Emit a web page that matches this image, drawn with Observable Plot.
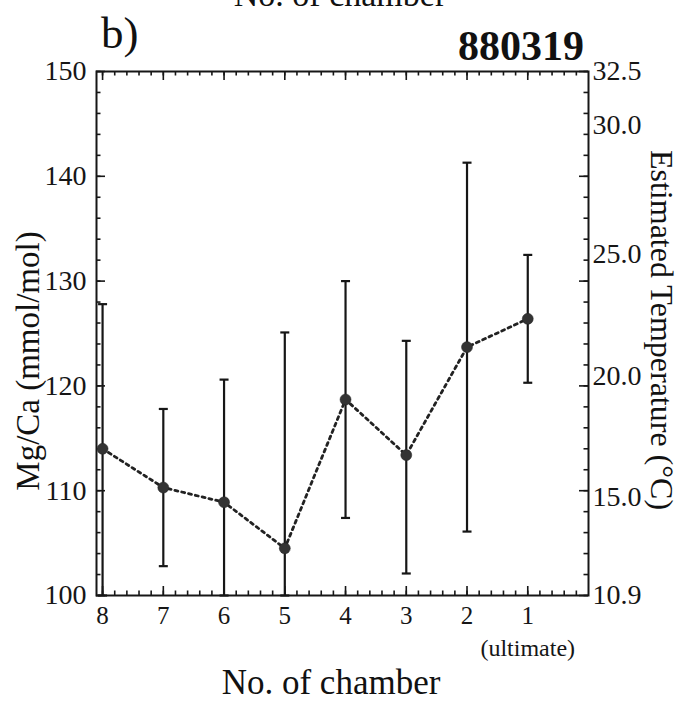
<!DOCTYPE html>
<html>
<head>
<meta charset="utf-8">
<script src="https://cdn.jsdelivr.net/npm/d3@7"></script>
<script src="https://cdn.jsdelivr.net/npm/@observablehq/plot@0.6"></script>
<style>
  html, body { margin: 0; padding: 0; background: #fff; }
  #wrap { position: relative; width: 683px; height: 701px; overflow: hidden; font-family: "Liberation Serif", "DejaVu Serif", serif; color: #111; }
  #wrap svg { position: absolute; left: 0; top: 0; }
  .t { position: absolute; white-space: nowrap; line-height: 1; }
</style>
</head>
<body>
<div id="wrap">
  <div class="t" id="topcut" style="left:340px; top:-22px; font-size:34px; transform:translateX(-50%);">No. of chamber</div>
  <div class="t" style="left:101px; top:11px; font-size:45px;">b)</div>
  <div class="t" style="right:99px; top:25px; font-size:42px; font-weight:bold;">880319</div>
  <div class="t" style="left:28px; top:361px; font-size:33px; transform:translate(-50%,-50%) rotate(-90deg);">Mg/Ca (mmol/mol)</div>
  <div class="t" style="left:662px; top:330px; font-size:32px; transform:translate(-50%,-50%) rotate(90deg);">Estimated Temperature (°C)</div>
  <div class="t" style="left:331px; top:665px; font-size:35px; transform:translateX(-50%);">No. of chamber</div>
</div>
<script>
// ---- data ----
const chambers = [8, 7, 6, 5, 4, 3, 2, 1];
const mgca     = [114.0, 110.3, 108.9, 104.5, 118.7, 113.4, 123.7, 126.4];
const upper    = [127.8, 117.8, 120.6, 125.1, 130.0, 124.3, 141.3, 132.5];
const lower    = [100.0, 102.8, 100.0, 100.0, 107.4, 102.1, 106.1, 120.3];

const mgcaTicks  = [100, 110, 120, 130, 140, 150];
const tempLabels = ["10.9", "15.0", "20.0", "25.0", "30.0", "32.5"];
const tempAtMgca = [100, 109.4, 120.9, 132.6, 144.9, 150];
const xSubLabel  = ["(ultimate)"];
const xSubAt     = [1];

// ---- derived tables ----
const data = chambers.map((c, i) => ({c, v: mgca[i], hi: upper[i], lo: lower[i]}));
const caps = data.flatMap(d => [{c: d.c, y: d.hi}, {c: d.c, y: d.lo}]);
const tempMap = new Map(tempAtMgca.map((v, i) => [v, tempLabels[i]]));
const minorY = d3.range(0, 26).map(i => 100 + 2 * i);
const minorX = d3.range(1, 41).map(i => i / 5);

const W = 683, H = 701, ml = 96, mr = 95, mt = 71, mb = 106;
const iw = W - ml - mr, ih = H - mt - mb;
const ink = "#161616";

const capSymbol = {
  draw(context, size) {
    const h = Math.sqrt(size / Math.PI);
    context.moveTo(-h, 0);
    context.lineTo(h, 0);
  }
};

const chart = Plot.plot({
  width: W, height: H,
  marginLeft: ml, marginRight: mr, marginTop: mt, marginBottom: mb,
  style: {fontFamily: "Liberation Serif, serif", background: "transparent", color: ink, overflow: "visible"},
  x: {domain: [8.1, 0], axis: null, label: null},
  y: {domain: [100, 150], axis: null, label: null},
  marks: [
    // inward ticks, left & right
    Plot.tickY(minorY, {y: d => d, insetRight: iw - 4.5, stroke: ink, strokeWidth: 1.6}),
    Plot.tickY(mgcaTicks, {y: d => d, insetRight: iw - 9, stroke: ink, strokeWidth: 1.6}),
    Plot.tickY(minorY, {y: d => d, insetLeft: iw - 4.5, stroke: ink, strokeWidth: 1.6}),
    Plot.tickY(mgcaTicks, {y: d => d, insetLeft: iw - 9, stroke: ink, strokeWidth: 1.6}),
    // inward ticks, bottom & top
    Plot.tickX(minorX, {x: d => d, insetTop: ih - 4.5, stroke: ink, strokeWidth: 1.6}),
    Plot.tickX(chambers, {x: d => d, insetTop: ih - 9, stroke: ink, strokeWidth: 1.6}),
    Plot.tickX(minorX, {x: d => d, insetBottom: ih - 4.5, stroke: ink, strokeWidth: 1.6}),
    Plot.tickX(chambers, {x: d => d, insetBottom: ih - 9, stroke: ink, strokeWidth: 1.6}),
    Plot.frame({stroke: ink, strokeWidth: 2}),
    // axis labels
    Plot.axisY(mgcaTicks, {anchor: "left", label: null, tickSize: 0, tickPadding: 10, fontSize: 28, fill: ink}),
    Plot.axisY(tempAtMgca, {anchor: "right", label: null, tickSize: 0, tickPadding: 4, fontSize: 28, fill: ink,
      tickFormat: d => tempMap.get(d)}),
    Plot.axisX(chambers, {anchor: "bottom", label: null, tickSize: 0, tickPadding: 11, fontSize: 25, fill: ink,
      tickFormat: d => String(d)}),
    Plot.text(xSubLabel, {x: (d, i) => xSubAt[i], y: () => 100, dy: 53, text: d => d, fontSize: 24, fill: ink}),
    // error bars
    Plot.ruleX(data, {x: "c", y1: "lo", y2: "hi", stroke: ink, strokeWidth: 2.2}),
    Plot.dot(caps, {x: "c", y: "y", symbol: capSymbol, r: 4.5, stroke: ink, strokeWidth: 2.2, fill: "none"}),
    // dotted connecting line and points
    Plot.line(data, {x: "c", y: "v", stroke: "#222", strokeWidth: 2.8, strokeDasharray: "3,4"}),
    Plot.dot(data, {x: "c", y: "v", r: 5.5, fill: "#333", stroke: "#222", strokeWidth: 0.5})
  ]
});
document.getElementById("wrap").prepend(chart);
</script>
</body>
</html>
